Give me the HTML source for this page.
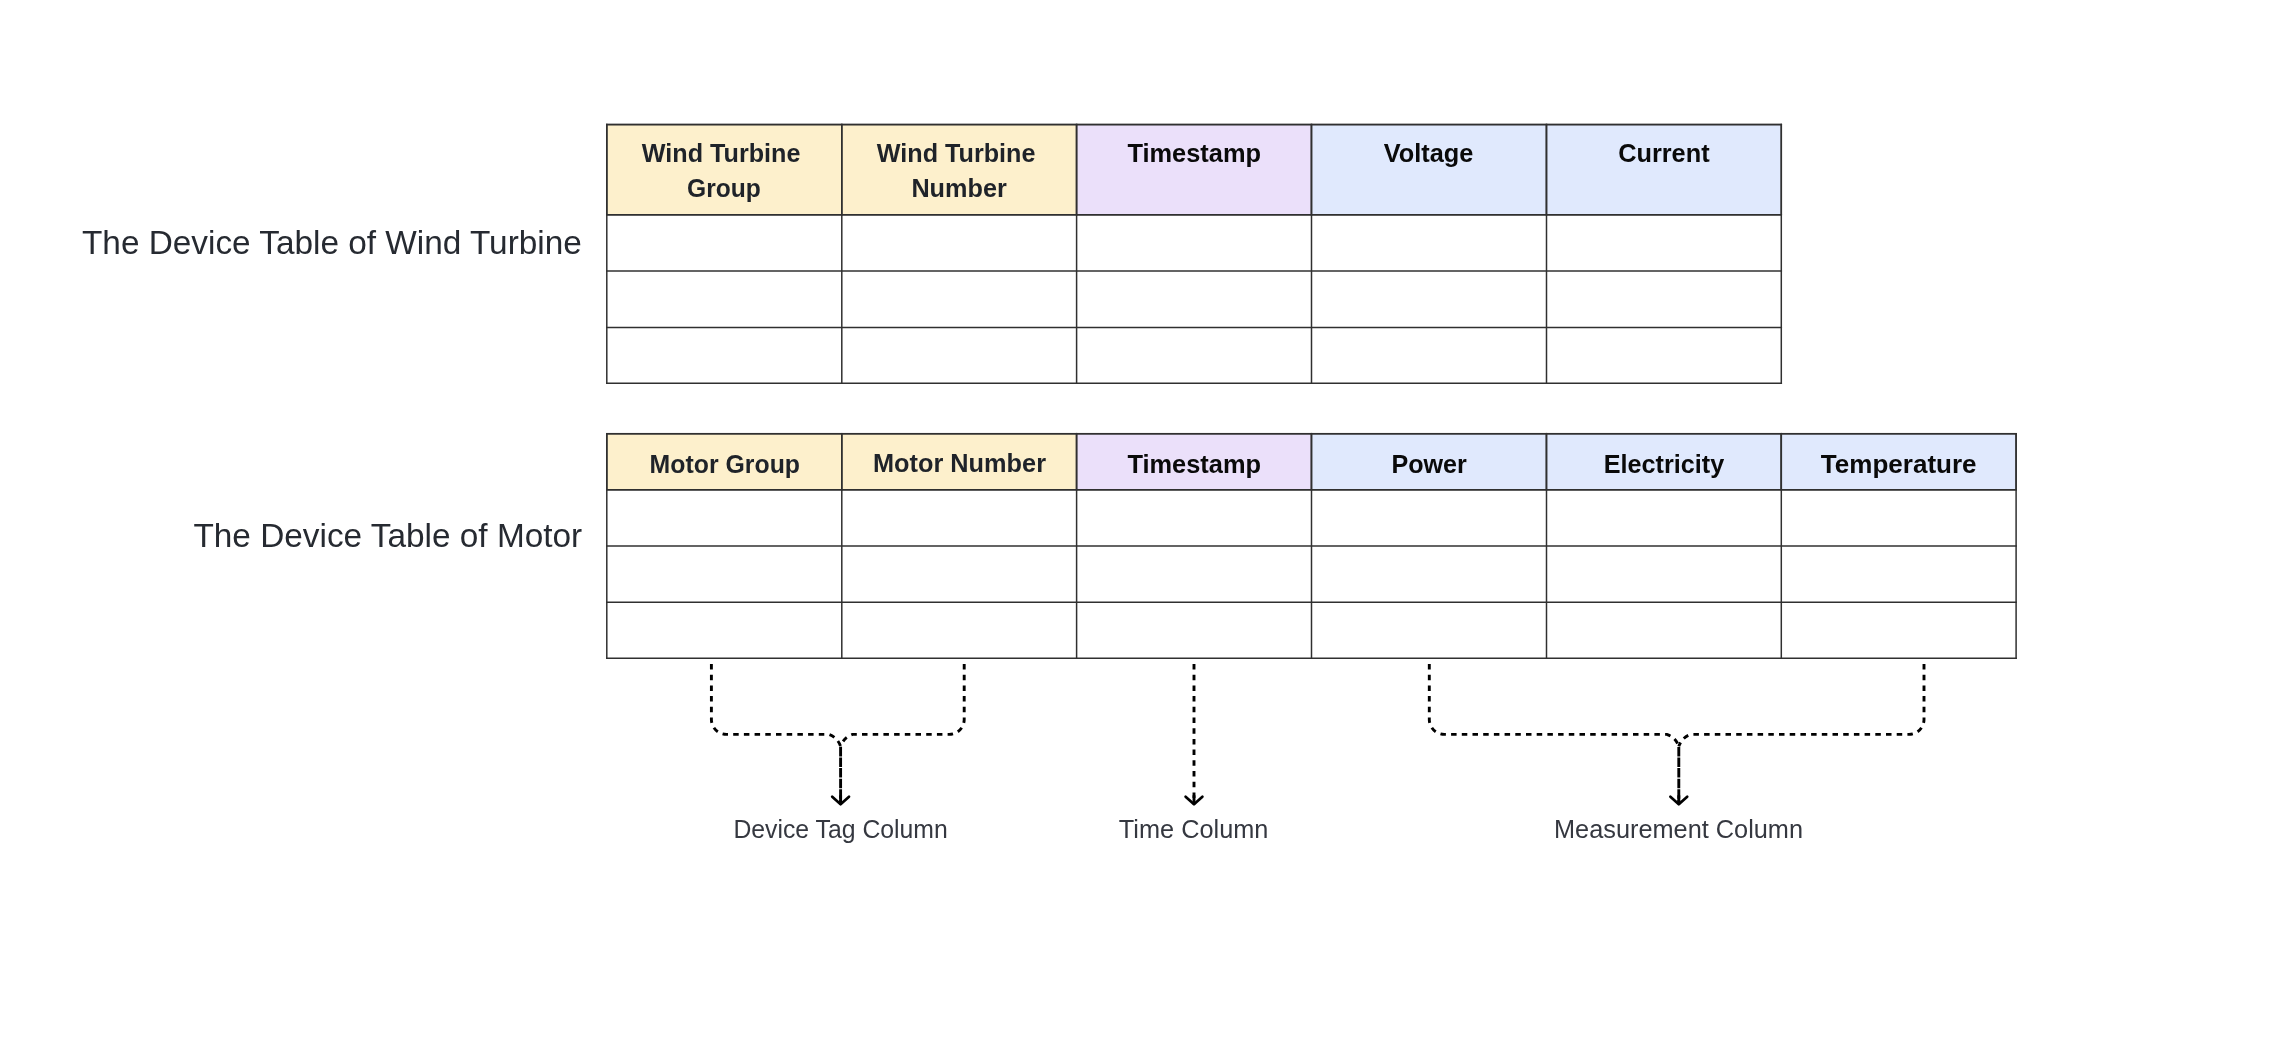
<!DOCTYPE html>
<html><head><meta charset="utf-8"><style>
html,body{margin:0;padding:0;background:#fff;}
body{width:2290px;height:1054px;overflow:hidden;font-family:"Liberation Sans",sans-serif;}
svg{display:block;will-change:transform;}
</style></head><body>
<svg width="2290" height="1054" viewBox="0 0 2290 1054">
<rect width="2290" height="1054" fill="#ffffff"/>
<g stroke="#303030" stroke-width="1.5">
<rect x="606.8" y="124.6" width="235.0" height="90.20000000000002" fill="#FDF0CC"/>
<rect x="841.8" y="124.6" width="234.79999999999995" height="90.20000000000002" fill="#FDF0CC"/>
<rect x="1076.6" y="124.6" width="234.9000000000001" height="90.20000000000002" fill="#EBE0FA"/>
<rect x="1311.5" y="124.6" width="235.0" height="90.20000000000002" fill="#E0E9FD"/>
<rect x="1546.5" y="124.6" width="234.79999999999995" height="90.20000000000002" fill="#E0E9FD"/>
<line x1="606.05" y1="124.6" x2="1782.05" y2="124.6"/>
<line x1="606.05" y1="214.8" x2="1782.05" y2="214.8"/>
<line x1="606.05" y1="271.1" x2="1782.05" y2="271.1"/>
<line x1="606.05" y1="327.4" x2="1782.05" y2="327.4"/>
<line x1="606.05" y1="383.3" x2="1782.05" y2="383.3"/>
<line x1="606.8" y1="123.85" x2="606.8" y2="384.05"/>
<line x1="841.8" y1="123.85" x2="841.8" y2="384.05"/>
<line x1="1076.6" y1="123.85" x2="1076.6" y2="384.05"/>
<line x1="1311.5" y1="123.85" x2="1311.5" y2="384.05"/>
<line x1="1546.5" y1="123.85" x2="1546.5" y2="384.05"/>
<line x1="1781.3" y1="123.85" x2="1781.3" y2="384.05"/>
</g>
<g stroke="#303030" stroke-width="1.5">
<rect x="606.8" y="433.7" width="235.0" height="56.10000000000002" fill="#FDF0CC"/>
<rect x="841.8" y="433.7" width="234.79999999999995" height="56.10000000000002" fill="#FDF0CC"/>
<rect x="1076.6" y="433.7" width="234.9000000000001" height="56.10000000000002" fill="#EBE0FA"/>
<rect x="1311.5" y="433.7" width="235.0" height="56.10000000000002" fill="#E0E9FD"/>
<rect x="1546.5" y="433.7" width="234.79999999999995" height="56.10000000000002" fill="#E0E9FD"/>
<rect x="1781.3" y="433.7" width="234.79999999999995" height="56.10000000000002" fill="#E0E9FD"/>
<line x1="606.05" y1="433.7" x2="2016.85" y2="433.7"/>
<line x1="606.05" y1="489.8" x2="2016.85" y2="489.8"/>
<line x1="606.05" y1="546.1" x2="2016.85" y2="546.1"/>
<line x1="606.05" y1="602.3" x2="2016.85" y2="602.3"/>
<line x1="606.05" y1="658.2" x2="2016.85" y2="658.2"/>
<line x1="606.8" y1="432.95" x2="606.8" y2="658.95"/>
<line x1="841.8" y1="432.95" x2="841.8" y2="658.95"/>
<line x1="1076.6" y1="432.95" x2="1076.6" y2="658.95"/>
<line x1="1311.5" y1="432.95" x2="1311.5" y2="658.95"/>
<line x1="1546.5" y1="432.95" x2="1546.5" y2="658.95"/>
<line x1="1781.3" y1="432.95" x2="1781.3" y2="658.95"/>
<line x1="2016.1" y1="432.95" x2="2016.1" y2="658.95"/>
</g>
<g font-family="&quot;Liberation Sans&quot;, sans-serif">
<text x="641.80" y="162.40" font-size="26.2" font-weight="700" fill="#1f2329" textLength="158.60" lengthAdjust="spacingAndGlyphs">Wind Turbine</text>
<text x="687.00" y="197.20" font-size="26.2" font-weight="700" fill="#1f2329" textLength="73.80" lengthAdjust="spacingAndGlyphs">Group</text>
<text x="876.80" y="162.40" font-size="26.2" font-weight="700" fill="#1f2329" textLength="158.60" lengthAdjust="spacingAndGlyphs">Wind Turbine</text>
<text x="911.40" y="197.20" font-size="26.2" font-weight="700" fill="#1f2329" textLength="95.40" lengthAdjust="spacingAndGlyphs">Number</text>
<text x="1127.40" y="162.30" font-size="26.2" font-weight="700" fill="#0a0a0a" textLength="133.60" lengthAdjust="spacingAndGlyphs">Timestamp</text>
<text x="1383.80" y="162.40" font-size="26.2" font-weight="700" fill="#0a0a0a" textLength="89.60" lengthAdjust="spacingAndGlyphs">Voltage</text>
<text x="1618.20" y="162.40" font-size="26.2" font-weight="700" fill="#0a0a0a" textLength="91.40" lengthAdjust="spacingAndGlyphs">Current</text>
<text x="649.60" y="472.50" font-size="26.2" font-weight="700" fill="#1f2329" textLength="150.40" lengthAdjust="spacingAndGlyphs">Motor Group</text>
<text x="873.00" y="472.40" font-size="26.2" font-weight="700" fill="#1f2329" textLength="173.00" lengthAdjust="spacingAndGlyphs">Motor Number</text>
<text x="1127.40" y="472.50" font-size="26.2" font-weight="700" fill="#0a0a0a" textLength="133.60" lengthAdjust="spacingAndGlyphs">Timestamp</text>
<text x="1391.40" y="472.60" font-size="26.2" font-weight="700" fill="#0a0a0a" textLength="75.40" lengthAdjust="spacingAndGlyphs">Power</text>
<text x="1603.80" y="472.50" font-size="26.2" font-weight="700" fill="#0a0a0a" textLength="120.40" lengthAdjust="spacingAndGlyphs">Electricity</text>
<text x="1820.80" y="472.50" font-size="26.2" font-weight="700" fill="#0a0a0a" textLength="155.80" lengthAdjust="spacingAndGlyphs">Temperature</text>
<text x="82.00" y="254.20" font-size="33.7" font-weight="400" fill="#262a31" textLength="499.80" lengthAdjust="spacingAndGlyphs">The Device Table of Wind Turbine</text>
<text x="193.40" y="546.90" font-size="33.7" font-weight="400" fill="#262a31" textLength="388.80" lengthAdjust="spacingAndGlyphs">The Device Table of Motor</text>
<text x="733.40" y="838.30" font-size="25.9" font-weight="400" fill="#353840" textLength="214.40" lengthAdjust="spacingAndGlyphs">Device Tag Column</text>
<text x="1118.80" y="838.20" font-size="25.9" font-weight="400" fill="#353840" textLength="149.60" lengthAdjust="spacingAndGlyphs">Time Column</text>
<text x="1554.00" y="838.10" font-size="25.9" font-weight="400" fill="#353840" textLength="249.00" lengthAdjust="spacingAndGlyphs">Measurement Column</text>
</g>
<g fill="none" stroke="#000" stroke-width="2.9" stroke-dasharray="5.5 5.2">
<path d="M711.4,664.0 V719.4 A15,15 0 0 0 726.4,734.4 H828.6 Q837.6,737.4 840.6,746.4"/><path d="M964.2,664.0 V719.4 A15,15 0 0 1 949.2,734.4 H852.6 Q843.6,737.4 840.6,746.4"/><path d="M840.6,746.9 V804.0" stroke-dasharray="9.5 1.1"/>
<path d="M1194,664 V804"/>
<path d="M1429.3,664.0 V719.4 A15,15 0 0 0 1444.3,734.4 H1666.8 Q1675.8,737.4 1678.8,746.4"/><path d="M1924.0,664.0 V719.4 A15,15 0 0 1 1909.0,734.4 H1690.8 Q1681.8,737.4 1678.8,746.4"/><path d="M1678.8,746.9 V804.0" stroke-dasharray="9.5 1.1"/>
</g>
<polyline points="832.2,796.6999999999999 840.6,804.3 849.0,796.6999999999999" fill="none" stroke="#000" stroke-width="2.7" stroke-linecap="round" stroke-linejoin="round"/><line x1="840.6" y1="795.3" x2="840.6" y2="804.3" stroke="#000" stroke-width="2.9"/>
<polyline points="1185.6,796.6999999999999 1194,804.3 1202.4,796.6999999999999" fill="none" stroke="#000" stroke-width="2.7" stroke-linecap="round" stroke-linejoin="round"/><line x1="1194" y1="795.3" x2="1194" y2="804.3" stroke="#000" stroke-width="2.9"/>
<polyline points="1670.3999999999999,796.6999999999999 1678.8,804.3 1687.2,796.6999999999999" fill="none" stroke="#000" stroke-width="2.7" stroke-linecap="round" stroke-linejoin="round"/><line x1="1678.8" y1="795.3" x2="1678.8" y2="804.3" stroke="#000" stroke-width="2.9"/>
</svg>
</body></html>
